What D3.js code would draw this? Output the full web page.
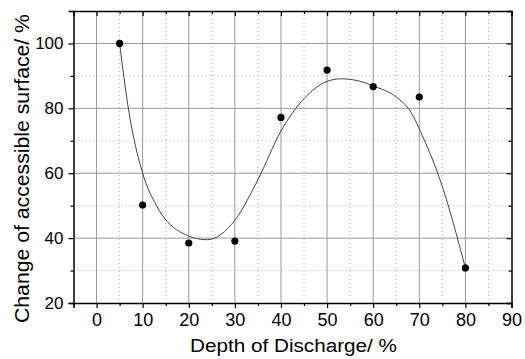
<!DOCTYPE html>
<html><head><meta charset="utf-8">
<script src="https://cdn.jsdelivr.net/npm/d3@7"></script>
<style>body{margin:0;background:#fff;}svg{display:block;}</style>
</head><body>
<svg id="c" width="525" height="359"></svg>
<script>
const depth = [5, 10, 20, 30, 40, 50, 60, 70, 80];
const surface = [100, 50.2, 38.5, 39.1, 77.2, 91.8, 86.7, 83.5, 30.8];
const fitX = [5, 6.9, 10, 13, 18, 24, 30, 35, 40, 45, 50, 53, 57, 60, 65, 68, 71, 74.5, 80];
const fitY = [100, 80, 60, 50, 42, 39.5, 45.5, 58, 73, 83, 88.3, 89.1, 88.4, 86.9, 83.5, 79.2, 70.5, 58, 30.8];
const xMajor = [0, 10, 20, 30, 40, 50, 60, 70, 80, 90];
const xMinor = [-5, 5, 15, 25, 35, 45, 55, 65, 75, 85];
const yMajor = [20, 40, 60, 80, 100];
const yMinor = [30, 50, 70, 90, 110];

const L = 73.5, R = 511.5, T = 11, B = 303;
const x = d3.scaleLinear().domain([-5, 90]).range([L, R]);
const y = d3.scaleLinear().domain([20, 110]).range([B, T]);
const svg = d3.select("#c");
const font = "Liberation Sans, Arial, sans-serif";

const g = svg.append("g");
g.selectAll(".vx").data(xMinor.filter(v => v > -5)).enter().append("line")
  .attr("x1", d => x(d)).attr("x2", d => x(d)).attr("y1", T).attr("y2", B)
  .attr("stroke", "#aaa").attr("stroke-width", 1).attr("stroke-dasharray", "1,3");
g.selectAll(".hy").data(yMinor.filter(v => v < 110)).enter().append("line")
  .attr("x1", L).attr("x2", R).attr("y1", d => y(d)).attr("y2", d => y(d))
  .attr("stroke", "#aaa").attr("stroke-width", 1).attr("stroke-dasharray", "1,3");
g.selectAll(".Vx").data(xMajor.filter(v => v < 90)).enter().append("line")
  .attr("x1", d => x(d)).attr("x2", d => x(d)).attr("y1", T).attr("y2", B)
  .attr("stroke", "#999").attr("stroke-width", 1);
g.selectAll(".Hy").data(yMajor.filter(v => v > 20)).enter().append("line")
  .attr("x1", L).attr("x2", R).attr("y1", d => y(d)).attr("y2", d => y(d))
  .attr("stroke", "#999").attr("stroke-width", 1);

const tickVals = xMajor.concat(xMinor).sort((a,b)=>a-b);
const yTickVals = yMajor.concat(yMinor).sort((a,b)=>a-b);
function styleAxis(sel, fs) {
  sel.select(".domain").attr("stroke", "#000").attr("stroke-width", 1.5);
  sel.selectAll(".tick line").attr("stroke", "#000").attr("stroke-width", 1.2);
  sel.selectAll("text").attr("font-family", font).attr("font-size", fs).attr("fill", "#000");
}
const xAxis = svg.append("g").attr("transform", `translate(0,${B})`)
  .call(d3.axisBottom(x).tickValues(tickVals).tickSizeOuter(0)
    .tickSize(5).tickPadding(5)
    .tickFormat(d => xMajor.includes(d) ? d : ""));
styleAxis(xAxis, 18);
xAxis.selectAll(".tick").filter(d => !xMajor.includes(d)).select("line").attr("y2", 3);

const yAxis = svg.append("g").attr("transform", `translate(${L},0)`)
  .call(d3.axisLeft(y).tickValues(yTickVals).tickSizeOuter(0)
    .tickSize(5).tickPadding(5)
    .tickFormat(d => yMajor.includes(d) ? d : ""));
styleAxis(yAxis, 17);
yAxis.selectAll(".tick").filter(d => !yMajor.includes(d)).select("line").attr("x2", -3);

const xTop = svg.append("g").attr("transform", `translate(0,${T})`)
  .call(d3.axisTop(x).tickValues(tickVals).tickSizeOuter(0).tickSize(-5).tickFormat(""));
styleAxis(xTop, 17);
xTop.selectAll(".tick").filter(d => !xMajor.includes(d)).select("line").attr("y2", 3);

const yRight = svg.append("g").attr("transform", `translate(${R},0)`)
  .call(d3.axisRight(y).tickValues(yTickVals).tickSizeOuter(0).tickSize(-5).tickFormat(""));
styleAxis(yRight, 17);
yRight.selectAll(".tick").filter(d => !yMajor.includes(d)).select("line").attr("x2", -3);

const fit = fitX.map((v, i) => [v, fitY[i]]);
svg.append("path").datum(fit)
  .attr("d", d3.line().x(d => x(d[0])).y(d => y(d[1])).curve(d3.curveMonotoneX))
  .attr("fill", "none").attr("stroke", "#444").attr("stroke-width", 1);

svg.selectAll(".pt").data(depth).enter().append("circle")
  .attr("cx", d => x(d)).attr("cy", (d, i) => y(surface[i])).attr("r", 3.6).attr("fill", "#000");

svg.append("text").attr("x", 190).attr("y", 352)
  .attr("textLength", 207).attr("lengthAdjust", "spacingAndGlyphs")
  .attr("font-family", font).attr("font-size", 18).text("Depth of Discharge/ %");
svg.append("text").attr("transform", `translate(28.5,323) rotate(-90)`)
  .attr("textLength", 309).attr("lengthAdjust", "spacingAndGlyphs")
  .attr("font-family", font).attr("font-size", 20.5).text("Change of accessible surface/ %");
</script>
</body></html>
